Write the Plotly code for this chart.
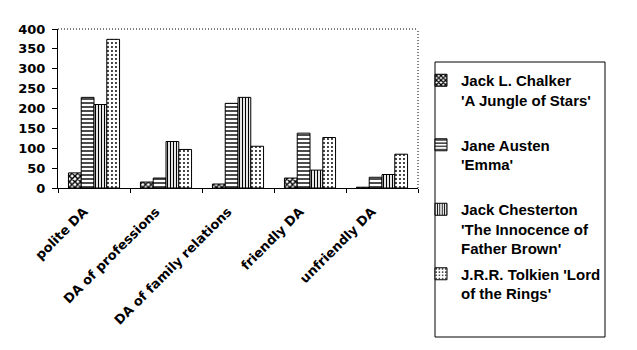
import plotly.graph_objects as go

categories = ["polite DA", "DA of professions", "DA of family relations", "friendly DA", "unfriendly DA"]
series_names = [
    "Jack L. Chalker<br>'A Jungle of Stars'<br> ",
    "Jane Austen<br>'Emma'<br> ",
    "Jack Chesterton<br>'The Innocence of<br>Father Brown'",
    "J.R.R. Tolkien 'Lord<br>of the Rings'<br> ",
]
chalker = [38, 15, 10, 25, 2]
austen = [228, 25, 213, 138, 27]
chesterton = [210, 117, 228, 45, 34]
tolkien = [374, 97, 105, 127, 85]
y_ticks = [0, 50, 100, 150, 200, 250, 300, 350, 400]

series = [chalker, austen, chesterton, tolkien]
patterns = [
    dict(shape="x", size=4, solidity=0.6),
    dict(shape="-", size=4, solidity=0.35),
    dict(shape="|", size=3, solidity=0.4),
    dict(shape=".", size=4, solidity=0.18),
]

fig = go.Figure()
for i, (name, vals, pat) in enumerate(zip(series_names, series, patterns)):
    fig.add_trace(go.Bar(
        x=categories, y=vals, name=name, legendgroup=f"g{i}",
        marker=dict(color="white", line=dict(color="black", width=1),
                    pattern=dict(fgcolor="black", bgcolor="white", fillmode="replace", **pat)),
    ))

bold15 = dict(family="Arial", size=15, color="black", weight="bold")
heavy13 = dict(family="DejaVu Sans", size=13, color="black", weight="bold")
fig.update_layout(
    width=637, height=350,
    margin=dict(l=58, r=219, t=29, b=162),
    paper_bgcolor="white", plot_bgcolor="white",
    barmode="group", bargap=0.29, bargroupgap=0,
    font=bold15,
    showlegend=True,
    legend=dict(x=(421 - 58) / 360, y=(188 - 64) / 159, xanchor="left", yanchor="top",
                borderwidth=0, bgcolor="rgba(0,0,0,0)",
                font=bold15, valign="top", maxheight=300,
                tracegroupgap=3, itemwidth=30),
    xaxis=dict(type="category", showline=True, linecolor="black", linewidth=1,
               ticks="outside", tickson="boundaries", ticklen=4, tickcolor="black",
               tickangle=-45, tickfont=heavy13, showgrid=False,
               ticklabelstandoff=10, ticklabelshift=-10),
    yaxis=dict(range=[0, 400], tickvals=y_ticks, showline=True, linecolor="black",
               linewidth=1, ticks="outside", ticklen=5, tickcolor="black",
               showgrid=False, zeroline=False, tickfont=heavy13, ticklabelstandoff=4),
    shapes=[
        dict(type="line", xref="paper", yref="paper", x0=0, x1=1, y0=1, y1=1,
             line=dict(color="black", width=1, dash="1px,2px")),
        dict(type="line", xref="paper", yref="paper", x0=1, x1=1, y0=0, y1=1,
             line=dict(color="black", width=1, dash="1px,2px")),
        dict(type="rect", xref="paper", yref="paper",
             x0=(435 - 58) / 360, x1=(605 - 58) / 360,
             y0=(188 - 337) / 159, y1=(188 - 62) / 159,
             line=dict(color="black", width=1), fillcolor="rgba(0,0,0,0)"),
    ],
)
fig.write_html("out.html")
